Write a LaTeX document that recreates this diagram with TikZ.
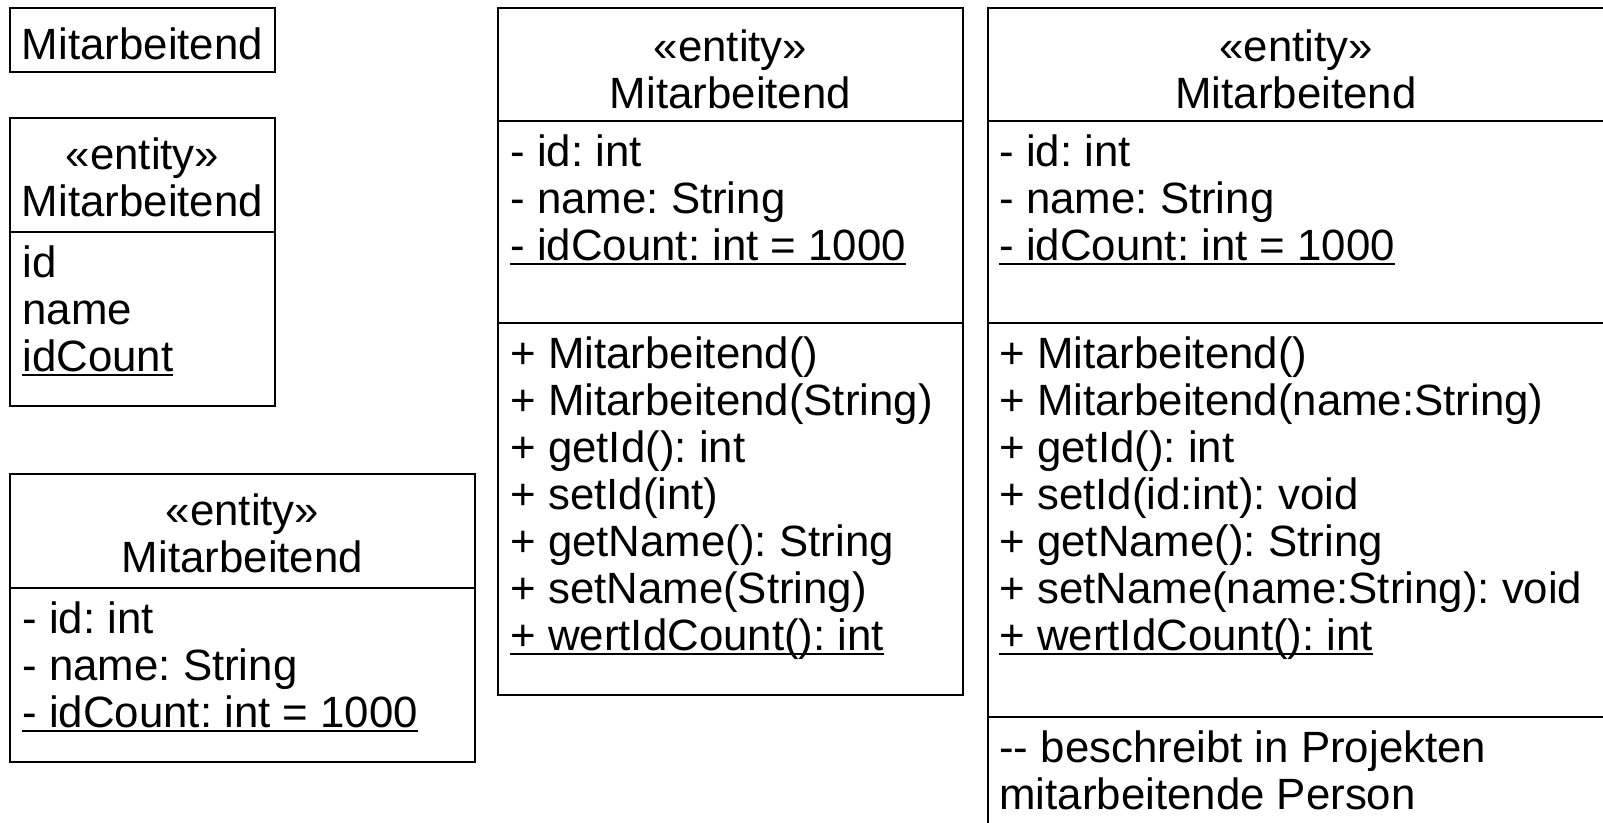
\documentclass[tikz,border=0pt]{standalone}
\usepackage{fontspec}
\setmainfont{Liberation Sans}
\usetikzlibrary{positioning}

% underlined (static) member
\newcommand{\statisch}[1]{\leavevmode\setbox0\hbox{#1}\rlap{\rule[-2.2pt]{\wd0}{0.9pt}}\box0}

\begin{document}
\begin{tikzpicture}[
    x=0.5pt, y=-0.5pt,
    comp/.style={draw, line width=1pt, rectangle, inner sep=0pt, outer sep=0pt, minimum width=#1},
    txt/.style={inner sep=0pt, font=\fontsize{21.9pt}{23.5pt}\selectfont\frenchspacing, align=left},
    title/.style={txt, align=center}
]
\useasboundingbox (0,0) rectangle (1603,823);
\clip (0,0) rectangle (1603,823);

% Name only
\node [comp=132.5pt, minimum height=32pt, anchor=north west] (a) at (10,8) {};
\node [txt, above=6pt of a.south] (a-name) {Mitarbeitend};

% Attribute names
\node [comp=132.5pt, minimum height=57pt, anchor=north west] (b-head) at (10,118) {};
\node [comp=132.5pt, minimum height=87pt, below=0pt of b-head] (b-attr) {};
\node [title, below=9pt of b-head.north] (b-title) {\strut «entity»\\Mitarbeitend};
\node [txt, below right=6pt and 6pt of b-attr.north west] (b-list) {\strut id\\name\\\statisch{idCount}};

% Attributes with types
\node [comp=232.5pt, minimum height=57pt, anchor=north west] (c-head) at (10,474) {};
\node [comp=232.5pt, minimum height=87pt, below=0pt of c-head] (c-attr) {};
\node [title, below=9pt of c-head.north] (c-title) {\strut «entity»\\Mitarbeitend};
\node [txt, below right=6pt and 6pt of c-attr.north west] (c-list) {\strut - id: int\\- name: String\\\statisch{- idCount: int = 1000}};

% With operations
\node [comp=232.5pt, minimum height=56.5pt, anchor=north west] (d-head) at (498,8) {};
\node [comp=232.5pt, minimum height=101pt, below=0pt of d-head] (d-attr) {};
\node [comp=232.5pt, minimum height=186pt, below=0pt of d-attr] (d-ops) {};
\node [title, below=10pt of d-head.north] (d-title) {\strut «entity»\\Mitarbeitend};
\node [txt, below right=6pt and 6pt of d-attr.north west] (d-list) {\strut - id: int\\- name: String\\\statisch{- idCount: int = 1000}};
\node [txt, below right=6pt and 6pt of d-ops.north west] (d-meth) {\strut + Mitarbeitend()\\+ Mitarbeitend(String)\\+ getId(): int\\+ setId(int)\\+ getName(): String\\+ setName(String)\\\statisch{+ wertIdCount(): int}};

% Full class with comment
\node [comp=314pt, minimum height=56.5pt, anchor=north west] (e-head) at (988,8) {};
\node [comp=314pt, minimum height=101pt, below=0pt of e-head] (e-attr) {};
\node [comp=314pt, minimum height=197pt, below=0pt of e-attr] (e-ops) {};
\node [comp=314pt, minimum height=65pt, below=0pt of e-ops] (e-note) {};
\node [title, below=10pt of e-head.north, xshift=-3pt] (e-title) {\strut «entity»\\Mitarbeitend};
\node [txt, below right=6pt and 5.5pt of e-attr.north west] (e-list) {\strut - id: int\\- name: String\\\statisch{- idCount: int = 1000}};
\node [txt, below right=6pt and 5.5pt of e-ops.north west] (e-meth) {\strut + Mitarbeitend()\\+ Mitarbeitend(name:String)\\+ getId(): int\\+ setId(id:int): void\\+ getName(): String\\+ setName(name:String): void\\\statisch{+ wertIdCount(): int}};
\node [txt, below right=6pt and 5.5pt of e-note.north west] (e-text) {\strut \mbox{-}\mbox{-} beschreibt in Projekten\\mitarbeitende Person};

\end{tikzpicture}
\end{document}
